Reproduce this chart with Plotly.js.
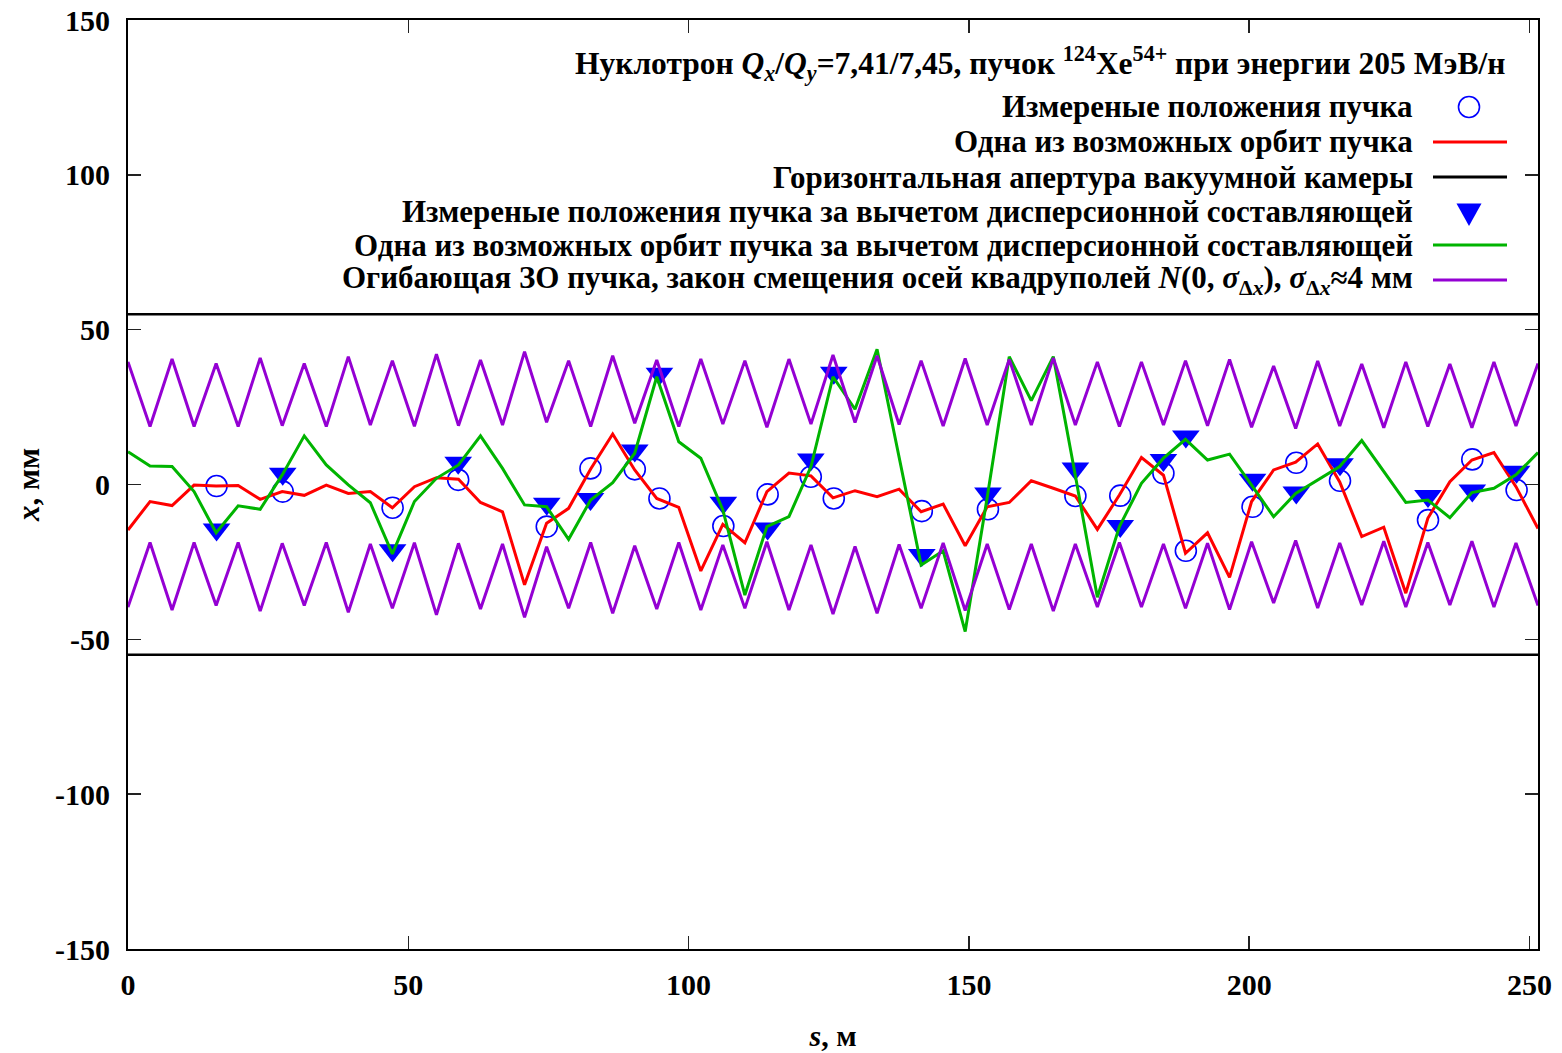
<!DOCTYPE html>
<html>
<head>
<meta charset="utf-8">
<script src="https://cdn.plot.ly/plotly-3.0.1.min.js"></script>
<style>
  html, body { margin: 0; padding: 0; background: #ffffff; }
  #chart { width: 1562px; height: 1053px; }
</style>
</head>
<body>
<div id="chart"></div>
<script>
// Quadrupole positions along the ring, m (half-cell spacing)
const quadS = [0, 3.93, 7.86, 11.79, 15.72, 19.65, 23.58, 27.51, 31.44, 35.37, 39.30, 43.23, 47.16, 51.09, 55.02, 58.95,
  62.88, 66.81, 70.74, 74.67, 78.60, 82.53, 86.46, 90.39, 94.32, 98.25, 102.18, 106.11, 110.04, 113.97, 117.90, 121.83,
  125.76, 129.69, 133.62, 137.55, 141.48, 145.41, 149.34, 153.27, 157.20, 161.13, 165.06, 168.99, 172.92, 176.85, 180.78, 184.71,
  188.64, 192.57, 196.50, 200.43, 204.36, 208.29, 212.22, 216.15, 220.08, 224.01, 227.94, 231.87, 235.80, 239.73, 243.66, 247.59, 251.52];

// Closed-orbit envelope (upper half, mm); lower half is its mirror
const envelope = [39.6, 18.7, 40.5, 18.7, 39.1, 18.7, 40.9, 19.0, 39.1, 18.7, 41.3, 19.2, 40.0, 18.8, 42.1, 19.0,
  40.2, 19.2, 42.9, 20.1, 40.0, 18.7, 41.6, 19.8, 40.2, 18.7, 40.5, 19.5, 40.0, 18.5, 40.5, 19.5,
  41.8, 20.0, 41.6, 19.4, 40.0, 18.9, 40.7, 19.2, 40.4, 19.2, 40.9, 19.2, 39.6, 18.7, 39.6, 19.2,
  40.0, 19.0, 40.4, 18.5, 38.3, 18.1, 39.9, 18.9, 38.9, 18.3, 39.6, 18.7, 38.9, 18.3, 39.6, 18.9, 39.1];

// One possible beam orbit, mm
const orbit = [-14.7, -5.5, -6.8, -0.2, -0.5, -0.3, -4.8, -2.3, -3.5, -0.2, -2.9, -2.3, -7.5, -0.7, 2.2, 1.7,
  -5.8, -8.8, -32.4, -12.5, -7.7, 5.0, 16.3, 4.7, -4.5, -7.4, -27.9, -12.9, -18.8, -2.3, 3.7, 2.8,
  -4.3, -2.0, -3.9, -1.5, -8.8, -6.3, -19.8, -7.2, -5.8, 1.2, -1.2, -3.7, -14.5, -3.4, 8.7, 3.0,
  -22.2, -15.6, -30.0, -5.5, 4.7, 7.2, 13.1, 0.8, -16.8, -13.8, -35.1, -10.9, 0.9, 7.9, 10.3, -0.7, -14.2];

// One possible orbit without the dispersion component, mm
const orbitNoDisp = [10.6, 6.0, 5.8, -2.3, -15.6, -6.9, -8.0, 3.1, 15.7, 6.3, -0.1, -5.9, -22.4, -5.5, 2.0, 6.3,
  15.7, 5.2, -6.6, -7.2, -17.7, -5.0, 0.6, 10.1, 34.8, 13.8, 8.5, -8.2, -35.7, -13.6, -10.4, 5.8,
  34.8, 24.3, 43.7, 8.9, -26.0, -21.4, -47.5, -4.1, 41.3, 27.1, 41.3, 2.9, -36.4, -13.6, 0.4, 8.5,
  14.6, 7.9, 9.8, -0.2, -10.4, -2.9, 1.5, 5.8, 14.2, 4.0, -5.8, -5.0, -10.7, -2.6, -1.2, 3.1, 10.3];

// Beam position monitors
const bpmS = [15.8, 27.6, 47.2, 58.9, 74.7, 82.5, 90.4, 94.8, 106.2, 114.1, 121.8, 125.9,
  141.6, 153.4, 169.0, 177.0, 184.7, 188.7, 200.6, 208.4, 216.2, 231.9, 239.8, 247.7];
const bpmX = [-0.5, -2.3, -7.5, 1.5, -13.6, 5.2, 4.9, -4.5, -13.4, -3.2, 2.5, -4.5,
  -8.6, -8.0, -3.7, -3.6, 3.6, -21.4, -7.2, 7.0, 1.2, -11.5, 8.1, -1.8];
const bpmXNoDisp = [-14.5, 3.5, -21.2, 7.0, -6.2, -4.7, 11.0, 35.8, -5.9, -14.2, 8.1, 36.1,
  -22.8, -2.9, 5.2, -13.4, 7.9, 15.5, 1.5, -2.6, 6.5, -3.7, -1.9, 4.1];

// Vacuum chamber horizontal aperture, mm
const apertureS = [0, 251.52];
const apertureUpper = [55, 55];
const apertureLower = [-55, -55];

const xTicks = [0, 50, 100, 150, 200, 250];
const yTicks = [-150, -100, -50, 0, 50, 100, 150];

const legendTitle = 'Нуклотрон <i>Q</i><sub><i>x</i></sub>/<i>Q</i><sub><i>y</i></sub>=7,41/7,45, пучок <sup>124</sup>Xe<sup>54+</sup> при энергии 205 МэВ/н';
const legendLabels = [
  'Измереные положения пучка',
  'Одна из возможных орбит пучка',
  'Горизонтальная апертура вакуумной камеры',
  'Измереные положения пучка за вычетом дисперсионной составляющей',
  'Одна из возможных орбит пучка за вычетом дисперсионной составляющей',
  'Огибающая ЗО пучка, закон смещения осей квадруполей <i>N</i>(0, <i>σ</i><sub>Δ<i>x</i></sub>), <i>σ</i><sub>Δ<i>x</i></sub>≈4 мм'
];

const BLUE = '#0000ff', RED = '#ff0000', GREEN = '#00b400', PURPLE = '#9400d3', BLACK = '#000000';
const FONT = 'Liberation Serif, Times New Roman, serif';
const LW = 3;

const traces = [
  { x: bpmS, y: bpmX, mode: 'markers', name: legendLabels[0],
    marker: { symbol: 'circle-open', size: 21, color: BLUE, line: { width: 1.6, color: BLUE } } },
  { x: quadS, y: orbit, mode: 'lines', name: legendLabels[1], line: { color: RED, width: LW } },
  { x: apertureS, y: apertureUpper, mode: 'lines', name: legendLabels[2], line: { color: BLACK, width: 2.4 } },
  { x: apertureS, y: apertureLower, mode: 'lines', name: legendLabels[2], line: { color: BLACK, width: 2.4 } },
  { x: bpmS, y: bpmXNoDisp, mode: 'markers', name: legendLabels[3],
    marker: { symbol: 'triangle-down', size: 24, color: BLUE, line: { width: 0 } } },
  { x: quadS, y: orbitNoDisp, mode: 'lines', name: legendLabels[4], line: { color: GREEN, width: LW } },
  { x: quadS, y: envelope, mode: 'lines', name: legendLabels[5], line: { color: PURPLE, width: LW } },
  { x: quadS, y: envelope.map(v => -v), mode: 'lines', name: legendLabels[5], line: { color: PURPLE, width: LW } }
];
traces.forEach(t => { t.showlegend = false; t.hoverinfo = 'skip'; });

// Manual gnuplot-style key (text right-aligned, sample on the right)
const plotL = 128, plotR = 1538, plotT = 20, plotB = 949;
const px = v => (v - plotL) / (plotR - plotL);
const py = v => (plotB - v) / (plotB - plotT);
const rowY = [107, 142, 177, 211, 245, 280];
const sampleColors = [null, RED, BLACK, null, GREEN, PURPLE];
const textFont = { family: FONT, size: 31, color: '#000', weight: 'bold' };

const annotations = [{
  xref: 'paper', yref: 'paper', x: px(1507), y: py(63), xanchor: 'right', yanchor: 'middle',
  text: legendTitle, showarrow: false, font: { family: FONT, size: 31.5, color: '#000', weight: 'bold' }
}];
legendLabels.forEach((lab, i) => {
  annotations.push({
    xref: 'paper', yref: 'paper', x: px(1415), y: py(rowY[i]), xanchor: 'right', yanchor: 'middle',
    text: lab, showarrow: false, font: textFont
  });
});

const shapes = [];
sampleColors.forEach((c, i) => {
  if (c) {
    shapes.push({ type: 'line', xref: 'paper', yref: 'paper', x0: px(1433), x1: px(1507), y0: py(rowY[i]), y1: py(rowY[i]),
      line: { color: c, width: LW } });
  }
});
shapes.push({ type: 'circle', xref: 'paper', yref: 'paper', xsizemode: 'pixel', ysizemode: 'pixel',
  xanchor: px(1469), yanchor: py(rowY[0]), x0: -10.5, x1: 10.5, y0: -10.5, y1: 10.5,
  line: { color: BLUE, width: 1.6 } });
shapes.push({ type: 'path', xref: 'paper', yref: 'paper', xsizemode: 'pixel', ysizemode: 'pixel',
  xanchor: px(1469), yanchor: py(rowY[3]), path: 'M-12.5,7.5 L12.5,7.5 L0,-15 Z',
  fillcolor: BLUE, line: { width: 0 } });

const axisCommon = {
  showgrid: false, zeroline: false, showline: true, linecolor: BLACK, linewidth: 2,
  mirror: 'ticks', ticks: 'inside', ticklen: 13, tickwidth: 1.5, tickcolor: '#222',
  tickfont: { family: FONT, size: 30, color: '#000', weight: 'bold' }
};

const layout = {
  width: 1562, height: 1053,
  margin: { l: plotL, r: 1562 - plotR, t: plotT, b: 1053 - plotB, pad: 0 },
  paper_bgcolor: '#ffffff', plot_bgcolor: '#ffffff',
  showlegend: false,
  xaxis: Object.assign({}, axisCommon, {
    range: [0, 251.52], tickvals: xTicks, ticktext: xTicks.map(String), ticklabelstandoff: 8,
    title: { text: '<i>s</i>, м', font: { family: FONT, size: 30, color: '#000', weight: 'bold' }, standoff: 25 }
  }),
  yaxis: Object.assign({}, axisCommon, {
    range: [-150, 150], tickvals: yTicks, ticktext: yTicks.map(String), ticklabelstandoff: 10,
    title: { text: '<i>x</i>, мм', font: { family: FONT, size: 31, color: '#000', weight: 'bold' }, standoff: 6 }
  }),
  annotations: annotations,
  shapes: shapes
};

Plotly.newPlot('chart', traces, layout, { staticPlot: true, displayModeBar: false });
</script>
</body>
</html>
